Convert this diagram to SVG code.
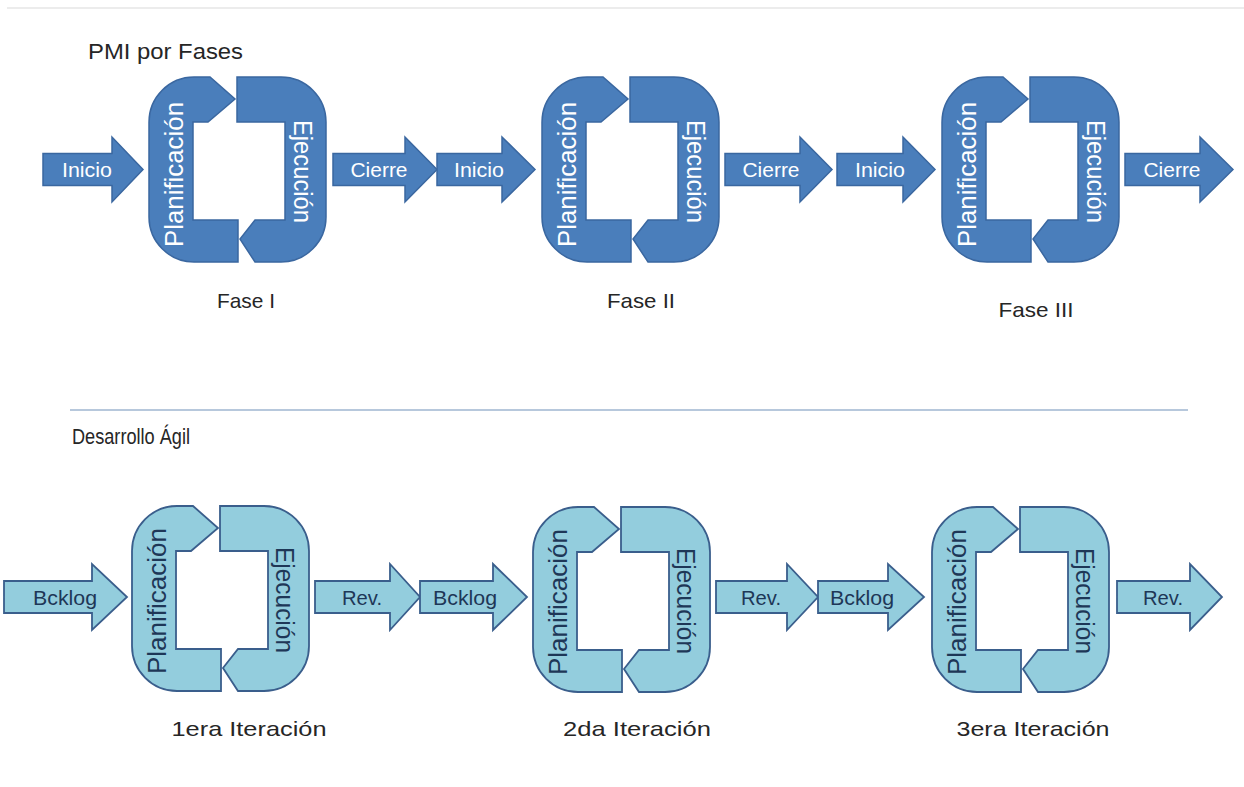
<svg xmlns="http://www.w3.org/2000/svg" xmlns:xlink="http://www.w3.org/1999/xlink" width="1244" height="787" viewBox="0 0 1244 787">
  <style>
    .dark { fill: #4a7ebb; stroke: #3a67a0; stroke-width: 1.5; stroke-linejoin: miter; }
    .light { fill: #93cddd; stroke: #3a5e8c; stroke-width: 1.8; stroke-linejoin: miter; }
    text { font-family: "Liberation Sans", Arial, sans-serif; }
    .w { fill: #ffffff; }
    .n { fill: #1e3757; }
    .arrow-t { font-size: 21px; text-anchor: middle; }
    .cyc-t { font-size: 25px; text-anchor: middle; }
    .cap { font-size: 21px; fill: #262626; text-anchor: middle; }
    .head { font-size: 22px; fill: #262626; }
  </style>
  <defs>
    <!-- two halves of the cycle ring, local origin = outer top-left -->
    <path id="cycle-left" d="M45,0 L61,0 L86,22 L59,45 L44,45 L44,143 L89,143 L89,185 L45,185 A45,45 0 0 1 0,140 L0,45 A45,45 0 0 1 45,0 Z"/>
    <path id="cycle-right" d="M88,0 L132,0 A45,45 0 0 1 177,45 L177,140 A45,45 0 0 1 132,185 L106,185 L91,162 L106,143 L136,143 L136,45 L88,45 Z"/>
  </defs>

  <rect width="1244" height="787" fill="#ffffff"/>
  <line x1="7" y1="8" x2="1244" y2="8" stroke="#ececec" stroke-width="2"/>

  <text class="head" x="88" y="59" textLength="155" lengthAdjust="spacingAndGlyphs">PMI por Fases</text>
  <line x1="70" y1="410" x2="1188" y2="410" stroke="#b7c8dc" stroke-width="2"/>
  <text class="head" x="72" y="444" textLength="118" lengthAdjust="spacingAndGlyphs">Desarrollo Ágil</text>

  <!-- phase cycles -->
  <g id="fase-1" transform="translate(149,77)">
    <use href="#cycle-left" class="dark"/>
    <use href="#cycle-right" class="dark"/>
    <text class="cyc-t w" transform="translate(34,97.5) rotate(-90)" textLength="145" lengthAdjust="spacingAndGlyphs">Planificación</text>
    <text class="cyc-t w" transform="translate(145,94.5) rotate(90)" textLength="103" lengthAdjust="spacingAndGlyphs">Ejecución</text>
  </g>
  <g id="fase-2" transform="translate(542,77)">
    <use href="#cycle-left" class="dark"/>
    <use href="#cycle-right" class="dark"/>
    <text class="cyc-t w" transform="translate(34,97.5) rotate(-90)" textLength="145" lengthAdjust="spacingAndGlyphs">Planificación</text>
    <text class="cyc-t w" transform="translate(145,94.5) rotate(90)" textLength="103" lengthAdjust="spacingAndGlyphs">Ejecución</text>
  </g>
  <g id="fase-3" transform="translate(942,77)">
    <use href="#cycle-left" class="dark"/>
    <use href="#cycle-right" class="dark"/>
    <text class="cyc-t w" transform="translate(34,97.5) rotate(-90)" textLength="145" lengthAdjust="spacingAndGlyphs">Planificación</text>
    <text class="cyc-t w" transform="translate(145,94.5) rotate(90)" textLength="103" lengthAdjust="spacingAndGlyphs">Ejecución</text>
  </g>

  <text class="cap" x="246" y="308" textLength="58" lengthAdjust="spacingAndGlyphs">Fase I</text>
  <text class="cap" x="641" y="308" textLength="68" lengthAdjust="spacingAndGlyphs">Fase II</text>
  <text class="cap" x="1036" y="317" textLength="75" lengthAdjust="spacingAndGlyphs">Fase III</text>

  <!-- iteration cycles -->
  <g id="iteracion-1" transform="translate(132,506)">
    <use href="#cycle-left" class="light"/>
    <use href="#cycle-right" class="light"/>
    <text class="cyc-t n" transform="translate(34,95) rotate(-90)" textLength="146" lengthAdjust="spacingAndGlyphs">Planificación</text>
    <text class="cyc-t n" transform="translate(144,94) rotate(90)" textLength="106" lengthAdjust="spacingAndGlyphs">Ejecución</text>
  </g>
  <g id="iteracion-2" transform="translate(533,507)">
    <use href="#cycle-left" class="light"/>
    <use href="#cycle-right" class="light"/>
    <text class="cyc-t n" transform="translate(34,95) rotate(-90)" textLength="146" lengthAdjust="spacingAndGlyphs">Planificación</text>
    <text class="cyc-t n" transform="translate(144,94) rotate(90)" textLength="106" lengthAdjust="spacingAndGlyphs">Ejecución</text>
  </g>
  <g id="iteracion-3" transform="translate(932,507)">
    <use href="#cycle-left" class="light"/>
    <use href="#cycle-right" class="light"/>
    <text class="cyc-t n" transform="translate(34,95) rotate(-90)" textLength="146" lengthAdjust="spacingAndGlyphs">Planificación</text>
    <text class="cyc-t n" transform="translate(144,94) rotate(90)" textLength="106" lengthAdjust="spacingAndGlyphs">Ejecución</text>
  </g>

  <text class="cap" x="249" y="736" textLength="155" lengthAdjust="spacingAndGlyphs">1era Iteración</text>
  <text class="cap" x="637" y="736" textLength="148" lengthAdjust="spacingAndGlyphs">2da Iteración</text>
  <text class="cap" x="1033" y="736" textLength="153" lengthAdjust="spacingAndGlyphs">3era Iteración</text>

  <!-- block arrows between the cycles -->
  <g id="connectors">
    <g id="inicio-1">
      <path class="dark" d="M43,153.5 L112,153.5 L112,137 L143,169.5 L112,202 L112,185.5 L43,185.5 Z"/>
      <text class="arrow-t w" x="87" y="177" textLength="50" lengthAdjust="spacingAndGlyphs">Inicio</text>
    </g>
    <g id="cierre-1">
      <path class="dark" d="M333,153.5 L405,153.5 L405,137 L437,169.5 L405,202 L405,185.5 L333,185.5 Z"/>
      <text class="arrow-t w" x="379" y="177" textLength="57" lengthAdjust="spacingAndGlyphs">Cierre</text>
    </g>
    <g id="inicio-2">
      <path class="dark" d="M437,153.5 L502,153.5 L502,137 L535,169.5 L502,202 L502,185.5 L437,185.5 Z"/>
      <text class="arrow-t w" x="479" y="177" textLength="50" lengthAdjust="spacingAndGlyphs">Inicio</text>
    </g>
    <g id="cierre-2">
      <path class="dark" d="M725,153.5 L800,153.5 L800,137 L832,169.5 L800,202 L800,185.5 L725,185.5 Z"/>
      <text class="arrow-t w" x="771" y="177" textLength="57" lengthAdjust="spacingAndGlyphs">Cierre</text>
    </g>
    <g id="inicio-3">
      <path class="dark" d="M837,153.5 L903,153.5 L903,137 L935,169.5 L903,202 L903,185.5 L837,185.5 Z"/>
      <text class="arrow-t w" x="880" y="177" textLength="50" lengthAdjust="spacingAndGlyphs">Inicio</text>
    </g>
    <g id="cierre-3">
      <path class="dark" d="M1125,153.5 L1200,153.5 L1200,137 L1233,169.5 L1200,202 L1200,185.5 L1125,185.5 Z"/>
      <text class="arrow-t w" x="1172" y="177" textLength="57" lengthAdjust="spacingAndGlyphs">Cierre</text>
    </g>

    <g id="backlog-1">
      <path class="light" d="M4,581 L92,581 L92,564 L127,597 L92,630 L92,613 L4,613 Z"/>
      <text class="arrow-t n" x="65" y="605" textLength="64" lengthAdjust="spacingAndGlyphs">Bcklog</text>
    </g>
    <g id="rev-1">
      <path class="light" d="M315,581 L390,581 L390,564 L420,597 L390,630 L390,613 L315,613 Z"/>
      <text class="arrow-t n" x="362" y="605" textLength="40" lengthAdjust="spacingAndGlyphs">Rev.</text>
    </g>
    <g id="backlog-2">
      <path class="light" d="M420,581 L493,581 L493,564 L527,597 L493,630 L493,613 L420,613 Z"/>
      <text class="arrow-t n" x="465" y="605" textLength="64" lengthAdjust="spacingAndGlyphs">Bcklog</text>
    </g>
    <g id="rev-2">
      <path class="light" d="M716,581 L787,581 L787,564 L818,597 L787,630 L787,613 L716,613 Z"/>
      <text class="arrow-t n" x="761" y="605" textLength="40" lengthAdjust="spacingAndGlyphs">Rev.</text>
    </g>
    <g id="backlog-3">
      <path class="light" d="M818,581 L888,581 L888,564 L924,597 L888,630 L888,613 L818,613 Z"/>
      <text class="arrow-t n" x="862" y="605" textLength="64" lengthAdjust="spacingAndGlyphs">Bcklog</text>
    </g>
    <g id="rev-3">
      <path class="light" d="M1117,581 L1190,581 L1190,564 L1222,597 L1190,630 L1190,613 L1117,613 Z"/>
      <text class="arrow-t n" x="1163" y="605" textLength="40" lengthAdjust="spacingAndGlyphs">Rev.</text>
    </g>
  </g>
</svg>
